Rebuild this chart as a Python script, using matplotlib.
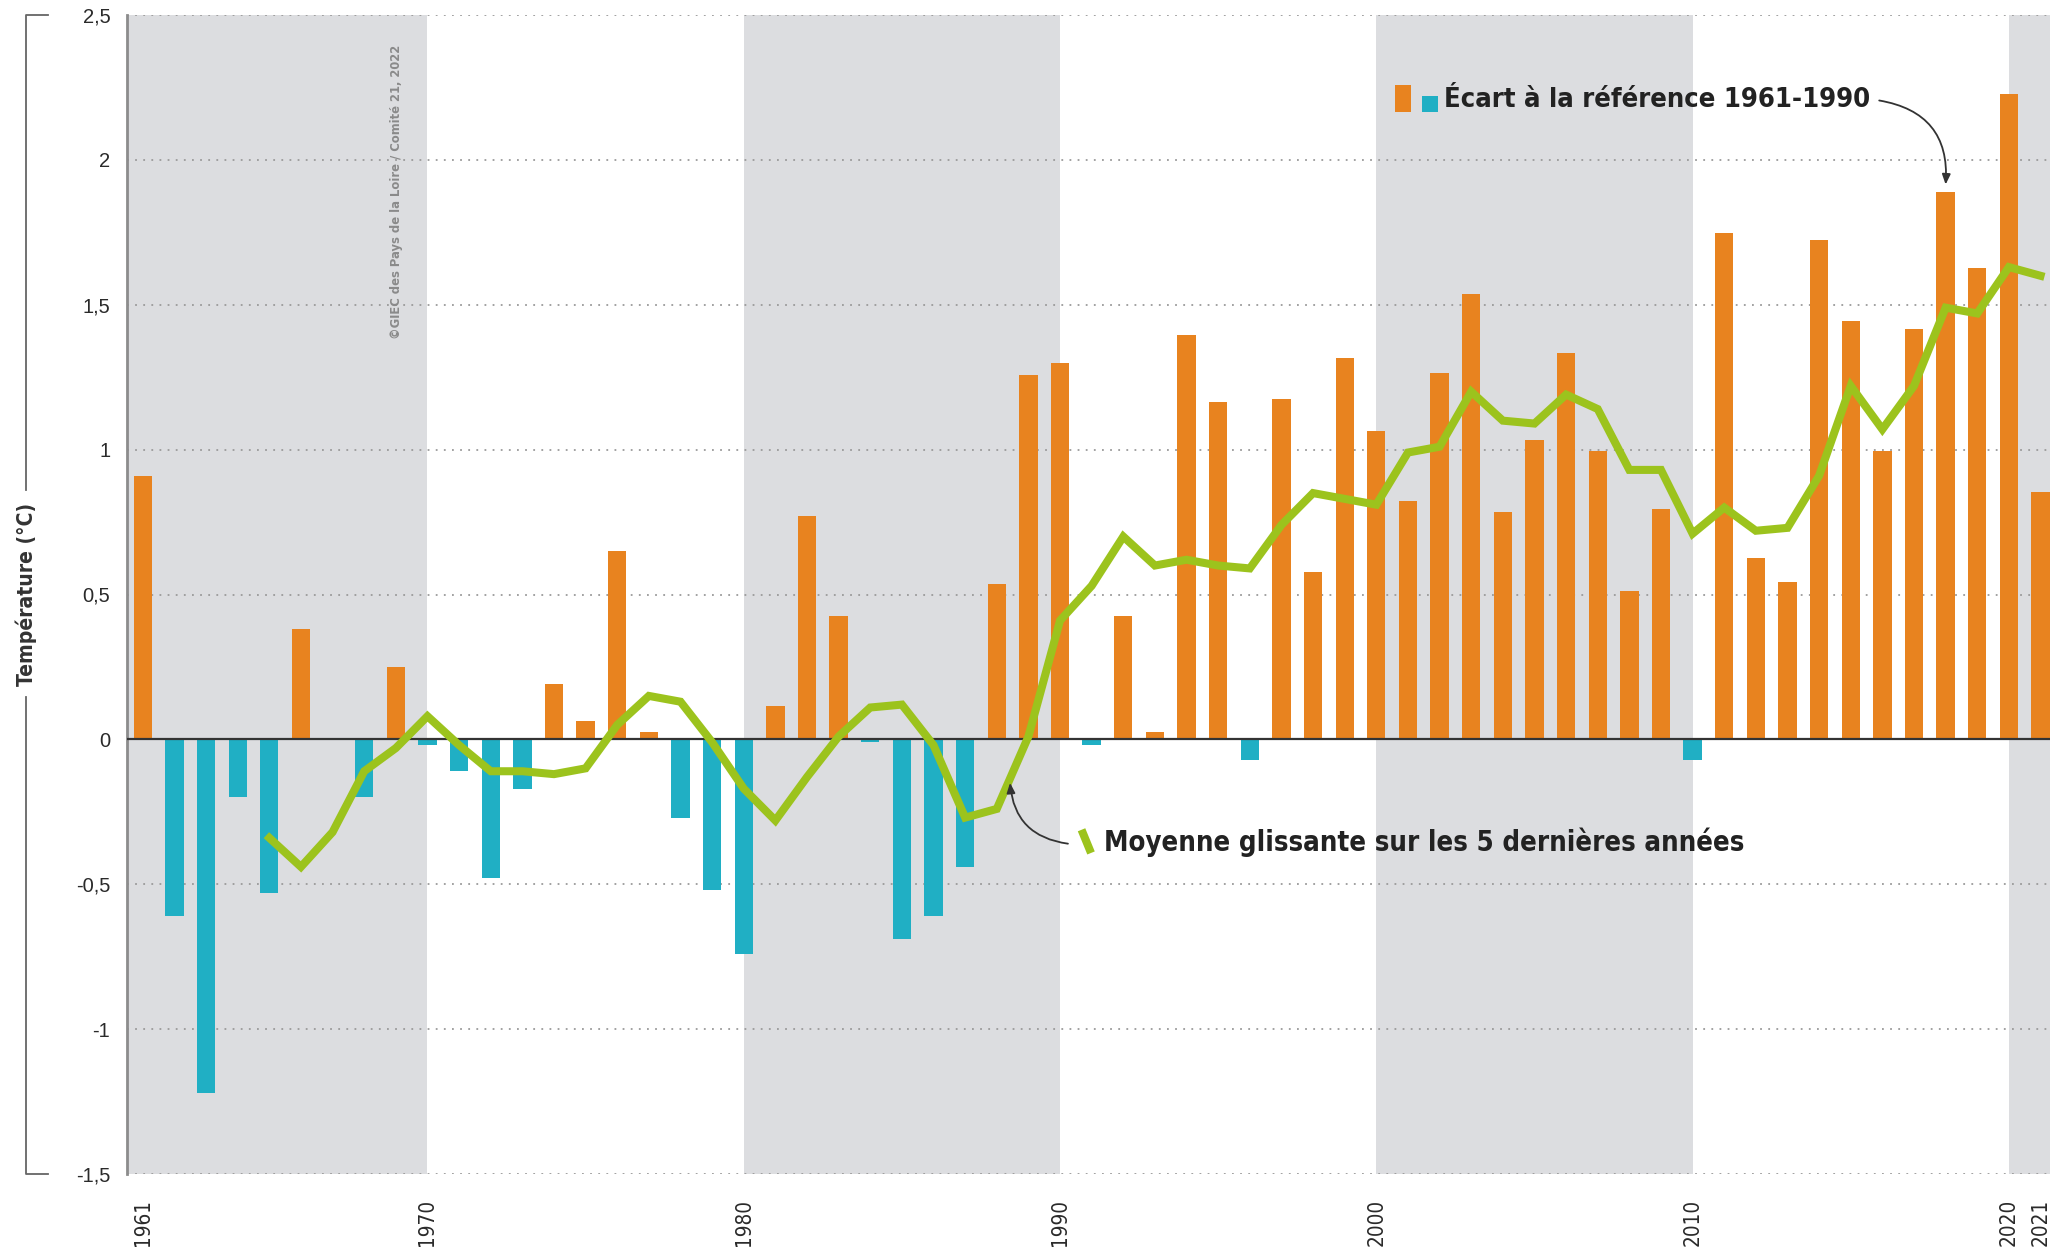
import matplotlib
matplotlib.use("Agg")
import matplotlib.pyplot as plt
from matplotlib import font_manager as fm
from matplotlib.lines import Line2D

# ---------------- data ----------------
years = list(range(1961, 2022))
anomalies = [0.91, -0.61, -1.22, -0.20, -0.53, 0.38, 0.00, -0.20, 0.25, -0.02,
             -0.11, -0.48, -0.17, 0.19, 0.065, 0.65, 0.025, -0.27, -0.52, -0.74,
             0.115, 0.77, 0.425, -0.01, -0.69, -0.61, -0.44, 0.535, 1.257, 1.30,
             -0.02, 0.425, 0.025, 1.394, 1.165, -0.07, 1.175, 0.576, 1.316, 1.065,
             0.823, 1.266, 1.536, 0.786, 1.033, 1.335, 0.996, 0.512, 0.795, -0.07,
             1.746, 0.626, 0.544, 1.723, 1.444, 0.996, 1.417, 1.888, 1.627, 2.226, 0.855]
ma_years = list(range(1965, 2022))
moving_avg = [-0.34, -0.44, -0.32, -0.11, -0.03, 0.08, -0.02, -0.11, -0.11, -0.12,
              -0.10, 0.05, 0.15, 0.13, -0.01, -0.17, -0.28, -0.13, 0.01, 0.11,
              0.12, -0.02, -0.27, -0.24, 0.01, 0.41, 0.53, 0.70, 0.60, 0.62,
              0.60, 0.59, 0.74, 0.85, 0.83, 0.81, 0.99, 1.01, 1.20, 1.10,
              1.09, 1.19, 1.14, 0.93, 0.93, 0.71, 0.80, 0.72, 0.73, 0.91,
              1.22, 1.07, 1.22, 1.49, 1.47, 1.63, 1.60]
xtick_years = [1961, 1970, 1980, 1990, 2000, 2010, 2020, 2021]
ytick_values = [-1.5, -1, -0.5, 0, 0.5, 1, 1.5, 2, 2.5]
ytick_labels = ["-1,5", "-1", "-0,5", "0", "0,5", "1", "1,5", "2", "2,5"]
shade_spans = [(1960.5, 1970), (1980, 1990), (2000, 2010), (2020, 2021.3)]

label_bars = "Écart à la référence 1961-1990"
label_line = "Moyenne glissante sur les 5 dernières années"
ylabel = "Température (°C)"
credit = "©GIEC des Pays de la Loire / Comité 21, 2022"

# ---------------- colours ----------------
ORANGE = "#e8831f"
TEAL = "#20afc4"
GREEN = "#9cc31d"
SHADE = "#dcdde0"
DARK = "#222222"

# ---------------- fonts ----------------
names = {f.name for f in fm.fontManager.ttflist}
dv_cond = any(f.name == "DejaVu Sans" and str(f.stretch) in ("condensed", "semi-condensed", "500", "600")
              for f in fm.fontManager.ttflist)
if "Liberation Sans Narrow" in names:
    NARROW = dict(family="Liberation Sans Narrow")
    SCALE = 1.0
elif dv_cond:
    NARROW = dict(family="DejaVu Sans", fontstretch="condensed")
    SCALE = 0.9
else:
    NARROW = dict(family="Liberation Sans")
    SCALE = 0.82
REG = "Liberation Sans" if "Liberation Sans" in names else "DejaVu Sans"


def nf(size, weight="bold"):
    d = dict(NARROW)
    d["fontsize"] = size * SCALE
    d["fontweight"] = weight
    return d


W, H = 2069, 1255
fig = plt.figure(figsize=(W / 100, H / 100), dpi=100)
ax = fig.add_axes([127 / W, 1 - 1174 / H, (2050 - 127) / W, (1174 - 15) / H])

xmin, xmax = 1960.5, 2021.3
ymin, ymax = -1.5, 2.5
ax.set_xlim(xmin, xmax)
ax.set_ylim(ymin, ymax)

# shaded decades
for a, b in shade_spans:
    ax.axvspan(a, b, color=SHADE, zorder=0, lw=0)

# grid lines
for v in ytick_values:
    if v == 0:
        continue
    ax.axhline(v, color="#9a9a9a", lw=1.3, ls=(0, (1, 3.5)), zorder=1)
ax.axhline(0, color="#333333", lw=1.6, zorder=4)

# bars
colors = [ORANGE if v >= 0 else TEAL for v in anomalies]
ax.bar(years, anomalies, width=0.58, color=colors, zorder=3, lw=0)

# moving average
ax.plot(ma_years, moving_avg, color=GREEN, lw=5.8, zorder=5, solid_joinstyle="miter")

# axes styling
for s in ["top", "right", "bottom"]:
    ax.spines[s].set_visible(False)
ax.spines["left"].set_color("#8c8c8c")
ax.spines["left"].set_linewidth(2)
ax.set_yticks(ytick_values)
ax.set_yticklabels(ytick_labels, fontsize=14.5, color="#2a2a2a", family=REG)
ax.tick_params(axis="y", length=0, pad=12)
ax.set_xticks(xtick_years)
ax.set_xticklabels([str(y) for y in xtick_years], rotation=90, color="#2a2a2a", va="top",
                   **nf(16.5, "normal"))
ax.tick_params(axis="x", length=0, pad=18)

# y label with bracket
fig.text(26 / W, (1 - 15 / H + 1 - 1174 / H) / 2, ylabel, rotation=90, ha="center",
         va="center", color="#333333", **nf(16.8))
bx = 26 / W
bx2 = 48 / W
ytop = 1 - 15 / H
ybot = 1 - 1174 / H
fig.add_artist(Line2D([bx2, bx, bx], [ytop, ytop, 1 - 490 / H], transform=fig.transFigure,
                      color="#666666", lw=1.3))
fig.add_artist(Line2D([bx, bx, bx2], [1 - 697 / H, ybot, ybot], transform=fig.transFigure,
                      color="#666666", lw=1.3))

# credit
ax.text(1969.03, 1.89, credit, rotation=90, ha="center", va="center", color="#8a8a8a",
        zorder=6, **nf(10.3))

# legend for bars
ax.bar([2000.85], [2.26 - 2.165], bottom=2.165, width=0.5, color=ORANGE, lw=0, zorder=6)
ax.bar([2001.7], [2.22 - 2.165], bottom=2.165, width=0.5, color=TEAL, lw=0, zorder=6)
ax.text(2002.15, 2.205, label_bars, ha="left", va="center", color=DARK, zorder=6, **nf(21.8))
ax.annotate("", xy=(2018.0, 1.915), xytext=(2015.9, 2.205),
            arrowprops=dict(arrowstyle="-|>,head_length=0.6,head_width=0.25", color="#333333",
                            lw=1.3, connectionstyle="arc3,rad=-0.45", shrinkA=0, shrinkB=0),
            zorder=6)

# legend for line
ax.plot([1990.68, 1990.98], [-0.312, -0.392], color=GREEN, lw=5.8, zorder=6,
        solid_capstyle="butt")
ax.text(1991.4, -0.354, label_line, ha="left", va="center", color=DARK, zorder=6, **nf(22))
ax.annotate("", xy=(1988.42, -0.15), xytext=(1990.25, -0.36),
            arrowprops=dict(arrowstyle="-|>,head_length=0.6,head_width=0.25", color="#333333",
                            lw=1.3, connectionstyle="arc3,rad=-0.4", shrinkA=0, shrinkB=0),
            zorder=6)

fig.savefig("out.png", dpi=100)
